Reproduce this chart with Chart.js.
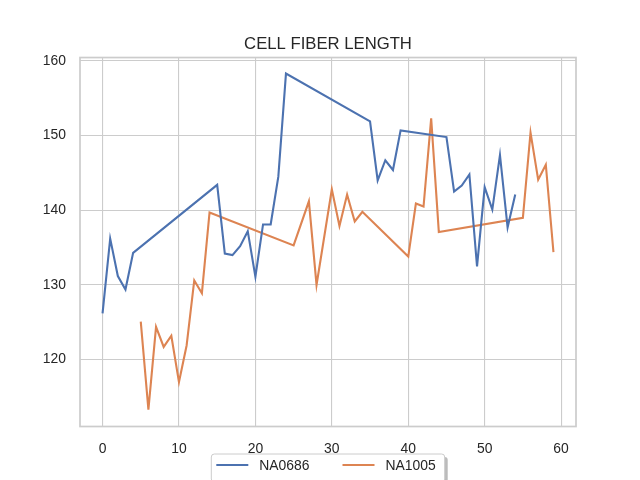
<!DOCTYPE html>
<html>
<head>
<meta charset="utf-8">
<script src="https://cdn.jsdelivr.net/npm/chart.js@4"></script>
<style>
  html, body { margin: 0; padding: 0; background: #fff; }
  canvas { display: block; }
</style>
</head>
<body>
<canvas id="line-chart" width="640" height="480"></canvas>
<script>
const titleText = "CELL FIBER LENGTH";
const seriesNames = ["NA0686", "NA1005"];

const na0686X = [0, 1, 2, 3, 4, 15, 16, 17, 18, 19, 20, 21, 22, 23, 24,
  35, 36, 37, 38, 39, 45, 46, 47, 48, 49, 50, 51, 52, 53, 54];
const na0686Y = [126.2, 136.2, 131.2, 129.4, 134.3, 143.4, 134.2, 134.0, 135.2, 137.2,
  131.1, 138.1, 138.1, 144.5, 158.3, 151.9, 144.0, 146.7, 145.4, 150.7,
  149.8, 142.5, 143.3, 144.8, 132.5, 143.1, 140.1, 147.4, 137.7, 142.1];

const na1005X = [5, 6, 7, 8, 9, 10, 11, 12, 13, 14, 25, 27, 28, 30, 31, 32, 33, 34,
  40, 41, 42, 43, 44, 55, 56, 57, 58, 59];
const na1005Y = [125.1, 113.3, 124.4, 121.7, 123.2, 117.0, 121.9, 130.6, 128.9, 139.7,
  135.3, 141.2, 130.0, 142.8, 137.9, 142.1, 138.5, 139.8,
  133.8, 140.9, 140.5, 152.3, 137.1, 139.0, 150.4, 144.1, 146.1, 134.4];

const xTicks = [0, 10, 20, 30, 40, 50, 60];
const yTicks = [120, 130, 140, 150, 160];

const fontFamily = "'Liberation Sans', Arial, sans-serif";
const textColor = "#262626";
const gridColor = "#cccccc";

function toPoints(xs, ys) {
  return xs.map((x, i) => ({ x: x, y: ys[i] }));
}

// matplotlib-style frame round the plot area
const frame = {
  id: "frame",
  afterDatasetsDraw(chart) {
    const a = chart.chartArea;
    const ctx = chart.ctx;
    ctx.save();
    ctx.strokeStyle = gridColor;
    ctx.lineWidth = 1.7;
    ctx.strokeRect(a.left, a.top, a.right - a.left, a.bottom - a.top);
    ctx.restore();
  },
};

// legend box under the axis, with a shadow
const legendBox = {
  id: "legendBox",
  afterDraw(chart) {
    const ctx = chart.ctx;
    const a = chart.chartArea;
    ctx.save();
    ctx.font = "13.9px " + fontFamily;
    const handle = 32, gap = 11, spacing = 33, padL = 5, padR = 9;
    const items = chart.data.datasets.map((ds) => ({
      label: ds.label,
      color: ds.borderColor,
      w: ctx.measureText(ds.label).width,
    }));
    let width = padL + padR;
    items.forEach((it, i) => {
      width += handle + gap + it.w + (i ? spacing : 0);
    });
    const left = (a.left + a.right) / 2 - width / 2;
    const top = a.bottom + 27.5;
    const h = 28;

    ctx.fillStyle = "rgba(120,120,120,0.5)";
    ctx.beginPath();
    ctx.roundRect(left + 3, top + 3, width, h, 3);
    ctx.fill();

    ctx.fillStyle = "#ffffff";
    ctx.strokeStyle = gridColor;
    ctx.lineWidth = 1;
    ctx.beginPath();
    ctx.roundRect(left, top, width, h, 3);
    ctx.fill();
    ctx.stroke();

    const cy = top + 11;
    let x = left + padL;
    ctx.textBaseline = "middle";
    ctx.textAlign = "left";
    items.forEach((it) => {
      ctx.strokeStyle = it.color;
      ctx.lineWidth = 2.1;
      ctx.beginPath();
      ctx.moveTo(x, cy);
      ctx.lineTo(x + handle, cy);
      ctx.stroke();
      x += handle + gap;
      ctx.fillStyle = textColor;
      ctx.fillText(it.label, x, cy + 1);
      x += it.w + spacing;
    });
    ctx.restore();
  },
};

const ctx = document.getElementById("line-chart").getContext("2d");
const lineChart = new Chart(ctx, {
  type: "line",
  data: {
    datasets: [
      {
        label: seriesNames[0],
        data: toPoints(na0686X, na0686Y),
        borderColor: "#4c72b0",
        backgroundColor: "#4c72b0",
        borderWidth: 2.1,
        pointRadius: 0,
        tension: 0,
      },
      {
        label: seriesNames[1],
        data: toPoints(na1005X, na1005Y),
        borderColor: "#dd8452",
        backgroundColor: "#dd8452",
        borderWidth: 2.1,
        pointRadius: 0,
        tension: 0,
      },
    ],
  },
  options: {
    responsive: false,
    animation: false,
    layout: { padding: { left: 16, right: 0, top: 0, bottom: 0 } },
    plugins: {
      legend: { display: false },
      tooltip: { enabled: false },
      title: {
        display: true,
        text: titleText,
        color: textColor,
        font: { family: fontFamily, size: 16.7, weight: "normal", lineHeight: 1.2 },
        padding: { top: 34, bottom: 3.5 },
      },
    },
    scales: {
      x: {
        type: "linear",
        min: -2.95,
        max: 61.95,
        afterBuildTicks: (scale) => {
          scale.ticks = xTicks.map((v) => ({ value: v }));
        },
        afterFit: (scale) => {
          scale.height = 53.5;
        },
        grid: { color: gridColor, lineWidth: 1.1, drawTicks: false },
        border: { display: false },
        ticks: {
          padding: 14,
          color: textColor,
          maxRotation: 0,
          font: { family: fontFamily, size: 13.9 },
        },
      },
      y: {
        type: "linear",
        min: 111.05,
        max: 160.45,
        afterBuildTicks: (scale) => {
          scale.ticks = yTicks.map((v) => ({ value: v }));
        },
        afterFit: (scale) => {
          scale.width = 64;
        },
        grid: { color: gridColor, lineWidth: 1.1, drawTicks: false },
        border: { display: false },
        ticks: {
          padding: 14,
          color: textColor,
          font: { family: fontFamily, size: 13.9 },
        },
      },
      // empty right-hand axis that only keeps the right margin
      yRight: {
        type: "linear",
        position: "right",
        afterFit: (scale) => {
          scale.width = 64;
        },
        grid: { display: false },
        border: { display: false },
        ticks: { display: false },
      },
    },
  },
  plugins: [frame, legendBox],
});
</script>
</body>
</html>
